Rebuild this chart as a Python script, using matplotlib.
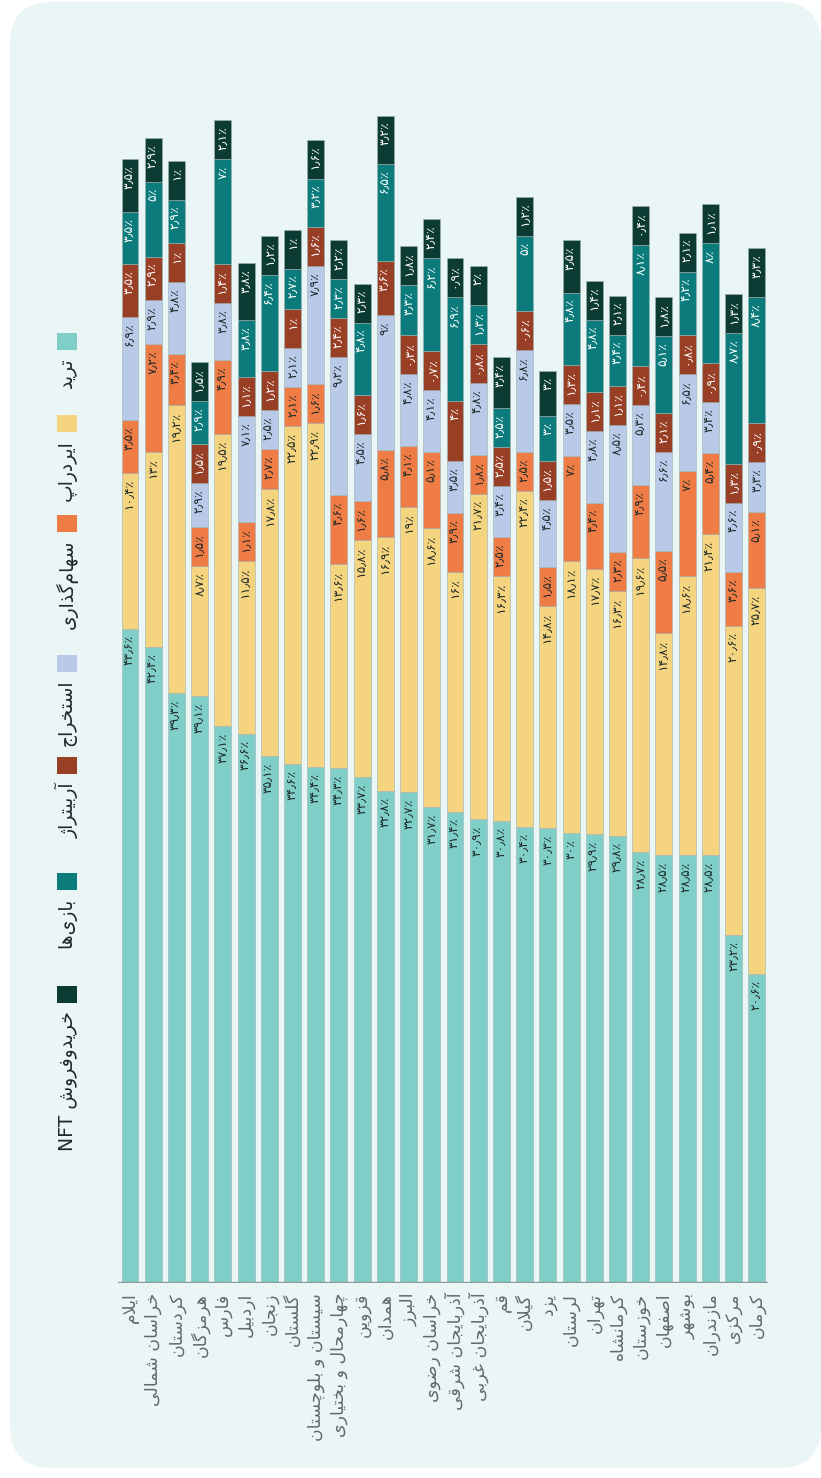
import matplotlib
matplotlib.use("Agg")
import matplotlib.pyplot as plt
from matplotlib.patches import FancyBboxPatch, Rectangle
from matplotlib.transforms import IdentityTransform
import numpy as np

plt.rcParams['font.family'] = ['DejaVu Sans']

# ---------------------------------------------------------------------------
# Data (percent of users per province)
# ---------------------------------------------------------------------------
provinces = [
    'ایلام', 'خراسان شمالی', 'کردستان', 'هرمزگان', 'فارس', 'اردبیل', 'زنجان',
    'گلستان', 'سیستان و بلوچستان', 'چهارمحال و بختیاری', 'قزوین', 'همدان',
    'البرز', 'خراسان رضوی', 'آذربایجان شرقی', 'آذربایجان غربی', 'قم', 'گیلان',
    'یزد', 'لرستان', 'تهران', 'کرمانشاه', 'خوزستان', 'اصفهان', 'بوشهر',
    'مازندران', 'مرکزی', 'کرمان',
]
series_names = ['ترید', 'ایردراپ', 'سهام‌گذاری', 'استخراج', 'آربیتراژ', 'بازی‌ها', 'خریدوفروش']

trade = [43.6, 42.4, 39.3, 39.1, 37.1, 36.6, 35.1, 34.6, 34.4, 34.3, 33.7, 32.8, 32.7, 31.7,
         31.4, 30.9, 30.8, 30.4, 30.3, 30, 29.9, 29.8, 28.7, 28.5, 28.5, 28.5, 23.2, 20.6]
airdrop = [10.4, 13, 19.2, 8.7, 19.5, 11.5, 17.8, 22.5, 22.9, 13.6, 15.8, 16.9, 19, 18.6,
           16, 21.7, 16.3, 22.4, 14.8, 18.1, 17.7, 16.3, 19.6, 14.8, 18.6, 21.4, 20.6, 25.7]
staking = [3.5, 7.2, 3.4, 1.5, 4.9, 1.1, 2.7, 2.1, 1.6, 4.6, 1.6, 5.8, 4.1, 5.1,
           3.9, 1.8, 2.5, 2.5, 1.5, 7, 4.4, 2.3, 4.9, 5.5, 7, 5.4, 3.6, 5.1]
mining = [6.9, 2.9, 4.8, 2.9, 3.8, 7.1, 2.5, 2.1, 7.9, 9.2, 4.5, 9, 4.8, 4.1,
          3.5, 4.8, 3.4, 6.8, 4.5, 3.5, 4.8, 8.5, 5.3, 6.6, 6.5, 3.4, 4.6, 3.3]
arbitrage = [3.5, 2.9, 1, 1.5, 1.4, 1.1, 1.2, 1, 1.6, 2.4, 1.6, 3.6, 0.3, 0.7,
             4, 0.8, 2.5, 0.6, 1.5, 1.3, 1.1, 1.1, 0.4, 2.1, 0.8, 0.9, 1.3, 0.9]
games = [3.5, 5, 2.9, 2.9, 7, 3.8, 6.4, 2.7, 3.2, 2.3, 4.8, 6.5, 3.3, 6.2,
         6.9, 1.3, 2.5, 5, 3, 4.8, 4.8, 3.4, 8.1, 5.1, 4.2, 8, 8.7, 8.4]
nft = [3.5, 2.9, 1, 1.5, 2.1, 3.8, 1.2, 1, 1.6, 2.2, 2.3, 3.2, 1.8, 2.4,
       0.9, 2, 3.4, 1.2, 3, 3.5, 1.4, 2.1, 0.4, 1.8, 2.1, 1.1, 1.3, 3.3]

colors = ['#7fcec7', '#f4d47e', '#ee7c44', '#b9c9e8', '#983f26', '#0b7c7b', '#0c3b34']
label_colors = ['#1d2828', '#1d2828', '#1d2828', '#1d2828', 'white', 'white', 'white']

# smallest drawn segment (in %) so that every label fits, as in the source graphic
MIN_SEG = 2.6

# ---------------------------------------------------------------------------
# Minimal Persian shaping (matplotlib has no bidi / joining support)
# ---------------------------------------------------------------------------
DUAL = {
    'ب': '\uFE8F\uFE90\uFE91\uFE92', 'پ': '\uFB56\uFB57\uFB58\uFB59',
    'ت': '\uFE95\uFE96\uFE97\uFE98', 'ج': '\uFE9D\uFE9E\uFE9F\uFEA0',
    'چ': '\uFB7A\uFB7B\uFB7C\uFB7D', 'ح': '\uFEA1\uFEA2\uFEA3\uFEA4',
    'خ': '\uFEA5\uFEA6\uFEA7\uFEA8', 'س': '\uFEB1\uFEB2\uFEB3\uFEB4',
    'ش': '\uFEB5\uFEB6\uFEB7\uFEB8', 'ص': '\uFEB9\uFEBA\uFEBB\uFEBC',
    'ض': '\uFEBD\uFEBE\uFEBF\uFEC0', 'غ': '\uFECD\uFECE\uFECF\uFED0',
    'ف': '\uFED1\uFED2\uFED3\uFED4', 'ق': '\uFED5\uFED6\uFED7\uFED8',
    'ک': '\uFB8E\uFB8F\uFB90\uFB91', 'گ': '\uFB92\uFB93\uFB94\uFB95',
    'ل': '\uFEDD\uFEDE\uFEDF\uFEE0', 'م': '\uFEE1\uFEE2\uFEE3\uFEE4',
    'ن': '\uFEE5\uFEE6\uFEE7\uFEE8', 'ه': '\uFEE9\uFEEA\uFEEB\uFEEC',
    'ی': '\uFBFC\uFBFD\uFBFE\uFBFF',
}
RIGHT = {
    'ا': '\uFE8D\uFE8E', 'آ': '\uFE81\uFE82', 'د': '\uFEA9\uFEAA',
    'ذ': '\uFEAB\uFEAC', 'ر': '\uFEAD\uFEAE', 'ز': '\uFEAF\uFEB0',
    'ژ': '\uFB8A\uFB8B', 'و': '\uFEED\uFEEE',
}
LAM_ALEF = {'ا': '\uFEFB\uFEFC', 'آ': '\uFEF5\uFEF6'}


def shape(word):
    out = []
    n = len(word)
    i = 0
    while i < n:
        c = word[i]
        prev_j = i > 0 and word[i - 1] in DUAL
        if c == 'ل' and i + 1 < n and word[i + 1] in LAM_ALEF:
            forms = LAM_ALEF[word[i + 1]]
            out.append(forms[1] if prev_j else forms[0])
            i += 2
            continue
        nxt = word[i + 1] if i + 1 < n else ''
        if c in DUAL:
            next_j = nxt in DUAL or nxt in RIGHT
            iso, fin, ini, med = DUAL[c]
            if prev_j and next_j:
                out.append(med)
            elif prev_j:
                out.append(fin)
            elif next_j:
                out.append(ini)
            else:
                out.append(iso)
        elif c in RIGHT:
            out.append(RIGHT[c][1] if prev_j else RIGHT[c][0])
        elif c != '\u200c':
            out.append(c)
        i += 1
    return ''.join(out)


def fa(s):
    """Visual (left-to-right) order of a Persian string."""
    return shape(s)[::-1]


FA_DIGITS = str.maketrans('0123456789.', '۰۱۲۳۴۵۶۷۸۹٫')


def fa_pct(v):
    return f"{v:g}".translate(FA_DIGITS) + '٪'


# ---------------------------------------------------------------------------
# Figure
# ---------------------------------------------------------------------------
W, H = 821, 1478
fig = plt.figure(figsize=(W / 100, H / 100), dpi=100, facecolor='white')

bg = FancyBboxPatch((10, 10), 811, 1466, boxstyle="round,pad=0,rounding_size=42",
                    transform=IdentityTransform(), facecolor='#eaf6f5', edgecolor='none',
                    zorder=-10)
fig.patches.append(bg)

ax_left, ax_right = 118.4, 768.4
ax_bottom, ax_top = H - 1283, H - 30
ax = fig.add_axes([ax_left / W, ax_bottom / H, (ax_right - ax_left) / W, (ax_top - ax_bottom) / H],
                  zorder=2)
ax.set_facecolor('none')
for sp in ax.spines.values():
    sp.set_visible(False)
ax.set_xticks([])
ax.set_yticks([])

series = [trade, airdrop, staking, mining, arbitrage, games, nft]
x = np.arange(len(provinces))
ax.set_xlim(-0.5, len(provinces) - 0.5)
ax.set_ylim(0, 83.5)

bottom = np.zeros(len(provinces))
for k, vals in enumerate(series):
    vals = np.array(vals, dtype=float)
    drawn = vals if k == 0 else np.maximum(vals, MIN_SEG)
    ax.bar(x, drawn, width=0.73, bottom=bottom, color=colors[k],
           edgecolor='#9fb2b2', linewidth=0.4, zorder=2)
    for xi, b, h, v in zip(x, bottom, drawn, vals):
        ax.annotate(fa_pct(v), (xi, b + h), xytext=(0, -4.5), textcoords='offset points',
                    rotation=90, ha='center', va='top', fontsize=8.8,
                    color=label_colors[k], zorder=3)
    bottom += drawn

ax.axhline(0, color='#8e9999', linewidth=2.4, zorder=4)

# province labels, hanging below the axis line
for xi, name in zip(x, provinces):
    ax.annotate(fa(name), (xi, 0), xytext=(0, -7), textcoords='offset points',
                rotation=90, ha='center', va='top', fontsize=12.5, color='#5f6a6a',
                annotation_clip=False)

# legend (drawn by hand, rotated like the rest of the graphic)
box_tops = [333, 415, 515, 655, 757, 873, 986]
for k, name in enumerate(series_names):
    top = box_tops[k]
    fig.patches.append(Rectangle((57, H - top - 17), 20, 17, transform=IdentityTransform(),
                                 facecolor=colors[k], edgecolor='none', zorder=1))
    label = fa(name) if k < 6 else 'NFT ' + fa(name)
    fig.text(67 / W, (H - top - 25) / H, label, rotation=90, ha='center', va='top',
             fontsize=13.5, color='#1d2828')

fig.savefig('out.png', dpi=100, facecolor='white')
